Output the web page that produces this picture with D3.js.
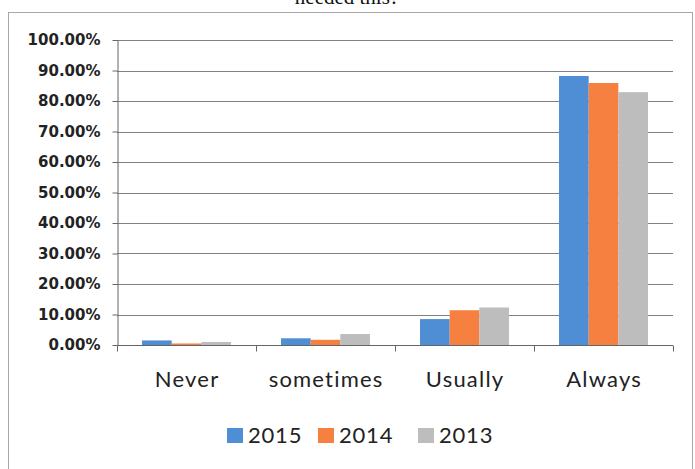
<!DOCTYPE html>
<html><head><meta charset="utf-8">
<script src="https://cdn.jsdelivr.net/npm/d3@7"></script>
<style>body{margin:0;background:#fff}svg{display:block}</style>
</head><body>
<svg id="c" width="695" height="469"></svg>
<script>
const categories = ["Never", "sometimes", "Usually", "Always"];
const seriesNames = ["2015", "2014", "2013"];
const values2015 = [1.5, 2.2, 8.5, 88.2];
const values2014 = [0.5, 1.7, 11.4, 85.9];
const values2013 = [1.0, 3.6, 12.3, 82.9];
const yTicks = [0, 10, 20, 30, 40, 50, 60, 70, 80, 90, 100];
const colors = ["#4f8ed4", "#f5803f", "#bdbdbd"];

const series = [values2015, values2014, values2013];
const svg = d3.select("#c");
const plotLeft = 117, plotRight = 673, plotTop = 40, plotBottom = 345;

// outer frame
svg.append("rect").attr("x", 8.5).attr("y", 12.5).attr("width", 684).attr("height", 470)
  .attr("fill", "none").attr("stroke", "#a8a8a8").attr("stroke-width", 1);

// cropped title
svg.append("text").attr("x", 347).attr("y", 4).attr("text-anchor", "middle")
  .attr("font-family", "Liberation Serif").attr("font-size", 21).attr("fill", "#111")
  .text("needed this?");

const x = d3.scaleBand().domain(categories).range([plotLeft, plotRight]).padding(0);
const xs = d3.scaleBand().domain(seriesNames).range([x.bandwidth() * 0.18, x.bandwidth() * 0.82]).padding(0);
const y = d3.scaleLinear().domain([0, 100]).range([plotBottom, plotTop]);

// gridlines
svg.append("g").selectAll("line").data(yTicks.filter(t => t > 0)).join("line")
  .attr("x1", plotLeft).attr("x2", plotRight)
  .attr("y1", d => Math.round(y(d)) + 0.5).attr("y2", d => Math.round(y(d)) + 0.5)
  .attr("stroke", "#808080").attr("stroke-width", 1);

// bars
const g = svg.append("g");
categories.forEach((c, ci) => {
  seriesNames.forEach((s, si) => {
    g.append("rect")
      .attr("x", x(c) + xs(s)).attr("width", xs.bandwidth())
      .attr("y", y(series[si][ci])).attr("height", plotBottom - y(series[si][ci]))
      .attr("fill", colors[si]);
  });
});

// y axis
const yAxis = svg.append("g").attr("transform", `translate(${plotLeft + 0.5},0)`)
  .call(d3.axisLeft(y).tickValues(yTicks).tickSize(5).tickSizeOuter(0)
    .tickFormat(d => d3.format(".2f")(d) + "%"));
yAxis.selectAll("path,line").attr("stroke", "#666");
yAxis.selectAll("text").attr("font-family", "DejaVu Sans").attr("font-weight", "bold")
  .attr("font-size", 15).attr("fill", "#222").attr("dx", -9);

// x axis
const xAxis = svg.append("g").attr("transform", `translate(0,${plotBottom + 0.5})`);
xAxis.append("line").attr("x1", plotLeft).attr("x2", plotRight).attr("stroke", "#666");
xAxis.selectAll("line.t").data(categories.concat(["end"])).join("line").attr("class", "t")
  .attr("x1", (d, i) => (i < categories.length ? x(d) : plotRight) + 0.5)
  .attr("x2", (d, i) => (i < categories.length ? x(d) : plotRight) + 0.5)
  .attr("y1", 0).attr("y2", 6).attr("stroke", "#666");
xAxis.selectAll("text").data(categories).join("text")
  .attr("x", d => x(d) + x.bandwidth() / 2 + 0.6).attr("y", 41.5)
  .attr("text-anchor", "middle").attr("font-family", "Lato").attr("font-size", 22)
  .attr("letter-spacing", 1.2).attr("fill", "#222")
  .text(d => d);

// legend
const legendX = [227, 318, 418];
const lg = svg.append("g");
seriesNames.forEach((s, i) => {
  lg.append("rect").attr("x", legendX[i]).attr("y", 428).attr("width", 16).attr("height", 15).attr("fill", colors[i]);
  lg.append("text").attr("x", legendX[i] + 21).attr("y", 443).attr("font-family", "Lato")
    .attr("font-size", 22).attr("letter-spacing", 0.8).attr("fill", "#222").text(s);
});
</script>
</body></html>
